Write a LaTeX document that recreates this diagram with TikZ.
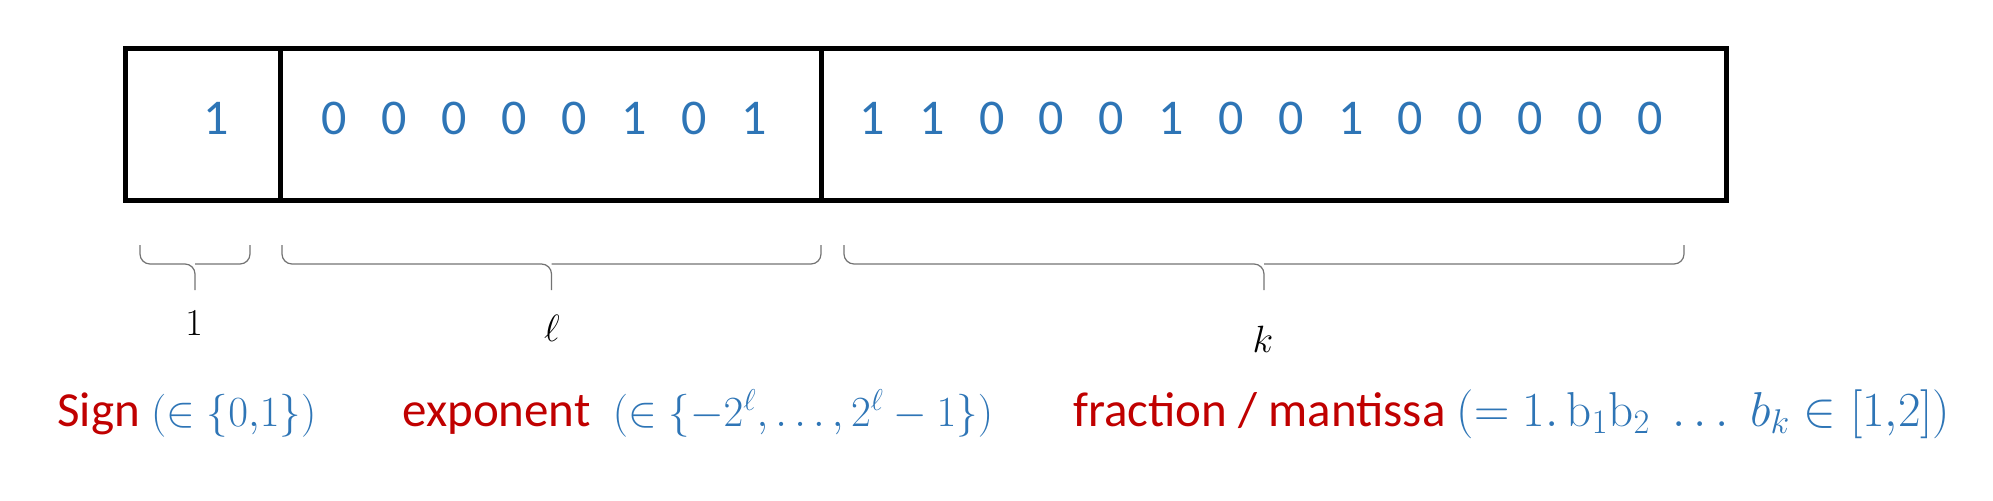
\documentclass[tikz,border=0pt]{standalone}
\usepackage{fix-cm}
\usepackage[no-math]{fontspec}
\setmainfont{Carlito}
\usetikzlibrary{positioning,calc}
\definecolor{bitblue}{RGB}{46,117,182}
\definecolor{fieldred}{RGB}{192,0,0}
\newcommand*{\fld}[1]{\textcolor{fieldred}{#1}}
\newcommand*{\rng}[2][21.5]{\textcolor{bitblue}{\fontsize{#1}{28}\selectfont$#2$}}

\begin{document}
\begin{tikzpicture}[x=0.5pt,y=0.5pt,
  bit/.style={text=bitblue,font=\fontsize{25}{30}\selectfont,inner sep=0pt},
  span/.style={draw=black!55,line width=0.6pt,rounded corners=5pt},
  width/.style={font=\fontsize{19}{22}\selectfont,inner sep=0pt},
  caption/.style={anchor=base west,inner sep=0pt,font=\fontsize{24.5}{28}\selectfont}]
\useasboundingbox (0,0) rectangle (1993,500);
% Register corners and the two field borders
\coordinate (nw) at (125,452);
\coordinate (se) at (1726,300);
\coordinate (d1) at (280,452);
\coordinate (d2) at (821,452);
\draw[line width=2.5pt] (nw) rectangle (se);
\draw[line width=2.5pt] (d1) -- (d1 |- se);
\draw[line width=2.5pt] (d2) -- (d2 |- se);
% Sign bit
\node[bit] (s1) at (216,382) {1};
% Exponent bits
\foreach \b [count=\i] in {0,0,0,0,0,1,0,1}
  \node[bit] (e\i) at ({334+60*(\i-1)},382) {\b};
% Fraction bits
\foreach \b [count=\i] in {1,1,0,0,0,1,0,0,1,0,0,0,0,0}
  \node[bit] (f\i) at ({872+59.85*(\i-1)},382) {\b};
% Braces under the fields: left end, right end, tip
\foreach \l/\r/\n in {140/250/sb,282/821/eb,844/1684/fb} {
  \coordinate (\n) at ({(\l+\r)/2},210);
  \draw[span] (\l,255) |- (\n |- 0,236) -- (\n);
  \draw[span] (\r,255) |- (\n |- 0,236);
}
% Field widths
\node[width] (w1) at (194,177) {$1$};
\node[width] (w2) at (552,172) {$\ell$};
\node[width] (w3) at (1263,161) {$k$};
% Field names
\node[caption] (sign) at (57,74)
  {\fld{Sign} \rng{(\in\{0{,}1\})}};
\node[caption] (expo) at (402,74)
  {\fld{exponent}\ \ \rng{(\in\{-2^{\ell},\ldots,2^{\ell}-1\})}};
\node[caption] (frac) at (1073,74)
  {\fld{fraction / mantissa} \rng[24.5]{(=1.\,\mathrm{b}_1\mathrm{b}_2\;\ldots\;b_k\in[1{,}2])}};
\end{tikzpicture}
\end{document}
